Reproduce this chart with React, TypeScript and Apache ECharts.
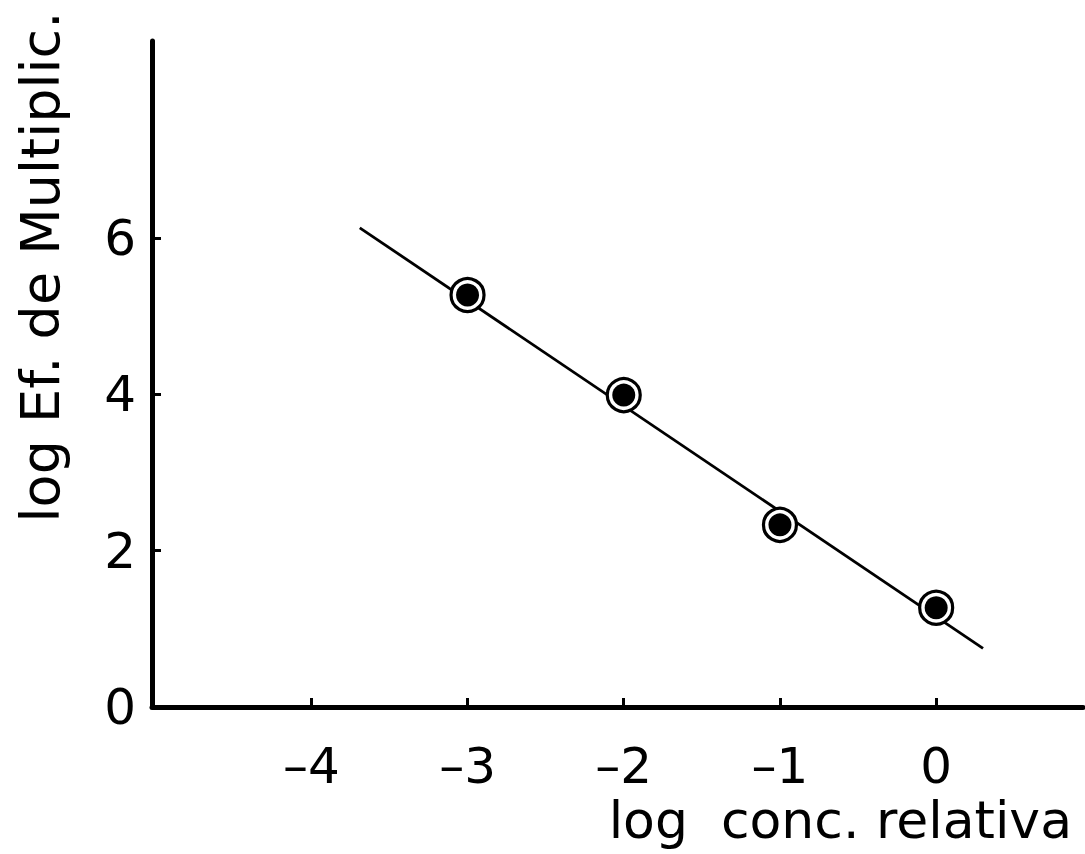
import React, { useEffect, useRef } from "react";
import * as echarts from "echarts";

// Measured points: log relative concentration vs log multiplication efficiency
const concLog = [-3, -2, -1, 0];
const effLog = [5.27, 3.99, 2.33, 1.27];

// Endpoints of the fitted straight line
const fitX = [-3.69, 0.3];
const fitY = [6.13, 0.75];

const xTicks = [-4, -3, -2, -1, 0];
const yLabels = [0, 2, 4, 6];
const yTicks = [2, 4, 6];

const xTitle = "log  conc. relativa";
const yTitle = "log Ef. de Multiplic.";

const FONT = "'DejaVu Sans', sans-serif";

export default function App() {
  const ref = useRef<HTMLDivElement>(null);

  useEffect(() => {
    if (!ref.current) return;
    const chart = echarts.init(ref.current, undefined, { renderer: "svg" });
    const points = concLog.map((x, i) => [x, effLog[i]]);
    const fit = fitX.map((x, i) => [x, fitY[i]]);

    chart.setOption({
      animation: false,
      backgroundColor: "#ffffff",
      grid: { left: 152, right: 2, top: 41, bottom: 147, containLabel: false },
      xAxis: {
        type: "value",
        min: -5.02,
        max: 0.94,
        splitLine: { show: false },
        axisLine: { show: true, onZero: false, lineStyle: { color: "#000", width: 5, cap: "round" } },
        axisTick: {
          show: true,
          inside: true,
          length: 9,
          customValues: xTicks,
          lineStyle: { color: "#000", width: 3 },
        },
        axisLabel: {
          show: true,
          customValues: xTicks,
          margin: 34,
          color: "#000",
          fontFamily: FONT,
          fontSize: 50,
          formatter: (v: number) => (v < 0 ? "\u2013" + Math.abs(v) : String(v)),
        },
      },
      yAxis: {
        type: "value",
        min: 0,
        max: 8.52,
        splitLine: { show: false },
        axisLine: { show: true, onZero: false, lineStyle: { color: "#000", width: 5, cap: "round" } },
        axisTick: {
          show: true,
          inside: true,
          length: 9,
          customValues: yTicks,
          lineStyle: { color: "#000", width: 3 },
        },
        axisLabel: {
          show: true,
          customValues: yLabels,
          margin: 16,
          color: "#000",
          fontFamily: FONT,
          fontSize: 50,
        },
      },
      graphic: [
        {
          type: "text",
          x: 1072,
          y: 820,
          style: {
            text: xTitle,
            font: `52px ${FONT}`,
            fill: "#000",
            align: "right",
            verticalAlign: "middle",
          },
        },
        {
          type: "text",
          x: 40,
          y: 267,
          rotation: Math.PI / 2,
          style: {
            text: yTitle,
            font: `54px ${FONT}`,
            fill: "#000",
            align: "center",
            verticalAlign: "middle",
          },
        },
      ],
      series: [
        {
          type: "line",
          data: fit,
          symbol: "none",
          lineStyle: { color: "#000", width: 2.8 },
          z: 2,
        },
        {
          type: "scatter",
          data: points,
          symbol: "circle",
          symbolSize: 33,
          itemStyle: { color: "#fff", borderColor: "#000", borderWidth: 3.2, opacity: 1 },
          z: 3,
        },
        {
          type: "scatter",
          data: points,
          symbol: "circle",
          symbolSize: 23,
          itemStyle: { color: "#000", opacity: 1 },
          z: 4,
        },
      ],
    });

    return () => chart.dispose();
  }, []);

  return (
    <div
      ref={ref}
      style={{ position: "fixed", left: 0, top: 0, width: 1085, height: 854 }}
    />
  );
}
